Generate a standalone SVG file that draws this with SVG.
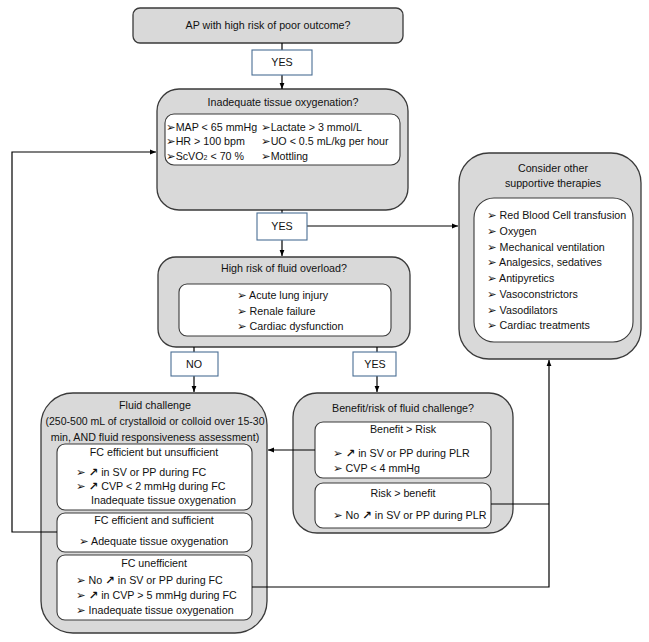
<svg xmlns="http://www.w3.org/2000/svg" width="649" height="642" viewBox="0 0 649 642">
<defs>
<marker id="ah" viewBox="0 0 10 10" refX="10" refY="5" markerWidth="6" markerHeight="6" orient="auto" markerUnits="userSpaceOnUse"><path d="M0,1 L10,5 L0,9 z" fill="#000"/></marker>
<style>
.g{fill:#d9d9d9;stroke:#3a3a3a;stroke-width:1.3}
.w{fill:#fff;stroke:#3a3a3a;stroke-width:1.1}
.lb{fill:#fff;stroke:#4a6e94;stroke-width:1.1}
.c{fill:none;stroke:#000;stroke-width:1.2}
.ca{fill:none;stroke:#000;stroke-width:1.2;marker-end:url(#ah)}
text{font-family:"Liberation Sans",Arial,sans-serif;font-size:10.7px;fill:#111}
.m{text-anchor:middle}
.b{font-family:"DejaVu Sans",sans-serif;font-size:11.5px}
.ar{font-family:"DejaVu Sans",sans-serif;font-size:11.5px;font-weight:bold}
.big{font-size:11.2px}
</style>
</defs>
<g id="n-top"><rect class="g" x="133" y="8" width="270" height="35" rx="7"/><text class="m" x="268" y="29">AP with high risk of poor outcome?</text></g>
<g id="n-inad"><rect class="g" x="157" y="89" width="251" height="121" rx="22"/>
<text class="m" x="283" y="106">Inadequate tissue oxygenation?</text>
<rect class="w" x="165" y="114" width="235" height="51" rx="9"/>
<g class="big"><text x="166" y="131"><tspan class="b">➢</tspan>MAP &lt; 65 mmHg</text>
<text x="166" y="145"><tspan class="b">➢</tspan>HR &gt; 100 bpm</text>
<text x="166" y="160"><tspan class="b">➢</tspan>ScVO<tspan font-size="7">2</tspan> &lt; 70 %</text>
<text x="261" y="131"><tspan class="b">➢</tspan>Lactate &gt; 3 mmol/L</text>
<text x="261" y="145"><tspan class="b">➢</tspan>UO &lt; 0.5 mL/kg per hour</text>
<text x="261" y="160"><tspan class="b">➢</tspan>Mottling</text></g></g>
<g id="n-high"><rect class="g" x="158" y="257" width="252" height="90" rx="18"/>
<text class="m" x="284" y="272">High risk of fluid overload?</text>
<rect class="w" x="179" y="284" width="212" height="52" rx="8"/>
<text x="237" y="299"><tspan class="b">➢</tspan> Acute lung injury</text>
<text x="237" y="315"><tspan class="b">➢</tspan> Renale failure</text>
<text x="237" y="330"><tspan class="b">➢</tspan> Cardiac dysfunction</text></g>
<g id="n-supp"><rect class="g" x="459" y="153" width="182" height="206" rx="30"/>
<text class="m" x="553" y="172">Consider other</text>
<text class="m" x="553" y="187">supportive therapies</text>
<rect class="w" x="474" y="198" width="159" height="144" rx="20"/>
<text x="487" y="219"><tspan class="b">➢</tspan> Red Blood Cell transfusion</text>
<text x="487" y="235"><tspan class="b">➢</tspan> Oxygen</text>
<text x="487" y="251"><tspan class="b">➢</tspan> Mechanical ventilation</text>
<text x="487" y="266"><tspan class="b">➢</tspan> Analgesics, sedatives</text>
<text x="487" y="282"><tspan class="b">➢</tspan> Antipyretics</text>
<text x="487" y="298"><tspan class="b">➢</tspan> Vasoconstrictors</text>
<text x="487" y="314"><tspan class="b">➢</tspan> Vasodilators</text>
<text x="487" y="329"><tspan class="b">➢</tspan> Cardiac treatments</text></g>
<g id="n-fluid"><rect class="g" x="41" y="393" width="226" height="240" rx="32"/>
<text class="m" x="155" y="409">Fluid challenge</text>
<text class="m" x="155" y="425" textLength="219" lengthAdjust="spacingAndGlyphs">(250-500 mL of crystalloid or colloid over 15-30</text>
<text class="m" x="155" y="441">min, AND fluid responsiveness assessment)</text>
<rect class="w" x="57" y="444" width="195" height="66" rx="8"/>
<text class="m" x="154" y="456">FC efficient but unsufficient</text>
<text x="76" y="476"><tspan class="b">➢</tspan>  <tspan class="ar">↗</tspan> in SV or PP during FC</text>
<text x="76" y="490"><tspan class="b">➢</tspan>  <tspan class="ar">↗</tspan> CVP &lt; 2 mmHg during FC</text>
<text x="91" y="504">Inadequate tissue oxygenation</text>
<rect class="w" x="57" y="513" width="195" height="39" rx="8"/>
<text class="m" x="154" y="524">FC efficient and sufficient</text>
<text x="79" y="545"><tspan class="b">➢</tspan> Adequate tissue oxygenation</text>
<rect class="w" x="57" y="555" width="195" height="65" rx="8"/>
<text class="m" x="154" y="567">FC unefficient</text>
<text x="76" y="584"><tspan class="b">➢</tspan>  No <tspan class="ar">↗</tspan> in SV or PP during FC</text>
<text x="76" y="599"><tspan class="b">➢</tspan>  <tspan class="ar">↗</tspan> in CVP &gt; 5 mmHg during FC</text>
<text x="76" y="614"><tspan class="b">➢</tspan>  Inadequate tissue oxygenation</text></g>
<g id="n-benefit"><rect class="g" x="293" y="393" width="220" height="140" rx="24"/>
<text class="m" x="403" y="412">Benefit/risk of fluid challenge?</text>
<rect class="w" x="315" y="422" width="176" height="56" rx="8"/>
<text class="m" x="403" y="433">Benefit &gt; Risk</text>
<text x="333" y="457"><tspan class="b">➢</tspan>  <tspan class="ar">↗</tspan> in SV or PP during PLR</text>
<text x="333" y="472"><tspan class="b">➢</tspan>   CVP &lt; 4 mmHg</text>
<rect class="w" x="315" y="483" width="176" height="45" rx="8"/>
<text class="m" x="403" y="497">Risk &gt; benefit</text>
<text x="333" y="519"><tspan class="b">➢</tspan> No <tspan class="ar">↗</tspan> in SV or PP during PLR</text></g>
<g id="connectors">
<path class="c" d="M282,43 V50"/>
<path class="ca" d="M282,75 V89"/>
<path class="c" d="M282,210 V213"/>
<path class="ca" d="M282,240 V256"/>
<path class="ca" d="M307,226 H458"/>
<path class="c" d="M194,347 V352"/>
<path class="ca" d="M194,376 V392"/>
<path class="c" d="M377,347 V352"/>
<path class="ca" d="M377,376 V392"/>
<path class="ca" d="M315,450 H268"/>
<path class="ca" d="M57,532 H12 V152 H156"/>
<path class="ca" d="M252,587 H549 V360"/>
<path class="c" d="M491,504 H549"/>
</g>
<g id="l-yes1"><rect class="lb" x="252" y="50" width="60" height="25"/><text class="m" x="282" y="66">YES</text></g>
<g id="l-yes2"><rect class="lb" x="257" y="213" width="50" height="27"/><text class="m" x="282" y="230">YES</text></g>
<g id="l-no"><rect class="lb" x="171" y="352" width="47" height="24"/><text class="m" x="194" y="368">NO</text></g>
<g id="l-yes3"><rect class="lb" x="353" y="352" width="43" height="24"/><text class="m" x="375" y="368">YES</text></g>
</svg>
